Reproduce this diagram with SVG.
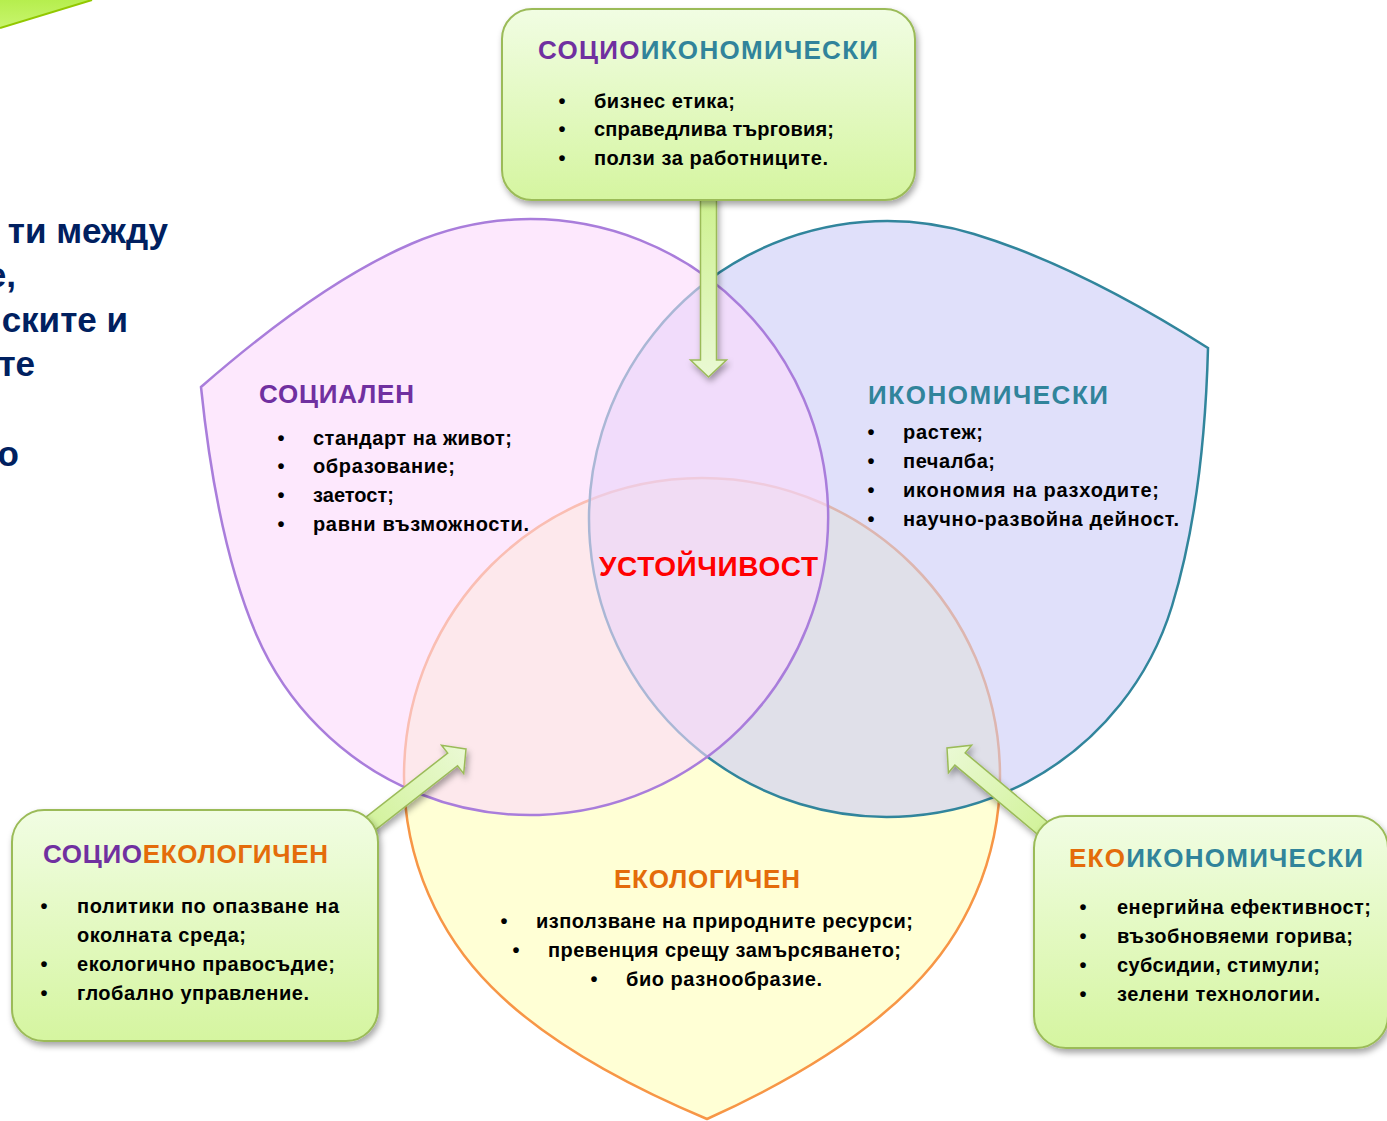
<svg xmlns="http://www.w3.org/2000/svg" width="1387" height="1121" viewBox="0 0 1387 1121">
<defs>
<style>
.t{font-family:"Liberation Sans",Arial,sans-serif;font-weight:bold}
.h{font-size:26px}
.b{font-size:20px;fill:#000}
.pu{fill:#7030a0}.te{fill:#31849b}.or{fill:#e46c0a}
.box{fill:url(#boxGrad);stroke:#9bbb59;stroke-width:2}
.arr{fill:url(#arrGrad);stroke:#9bbb59;stroke-width:1.5}
.lt{font-family:"Liberation Sans",Arial,sans-serif;font-weight:bold;font-size:35px;fill:#002060}
</style>
<linearGradient id="boxGrad" x1="0" y1="0" x2="0" y2="1">
<stop offset="0" stop-color="#f1fde3"/><stop offset="1" stop-color="#d5f5a0"/>
</linearGradient>
<linearGradient id="arrGrad" x1="1" y1="0" x2="0" y2="0">
<stop offset="0" stop-color="#eaf9d4"/><stop offset="1" stop-color="#cdf18f"/>
</linearGradient>
<linearGradient id="cornerGrad" x1="0" y1="0" x2="0" y2="1">
<stop offset="0" stop-color="#b6ee4e"/><stop offset="1" stop-color="#c8f56e"/>
</linearGradient>
<filter id="sh" x="-20%" y="-20%" width="140%" height="150%">
<feDropShadow dx="2" dy="4" stdDeviation="3" flood-color="#000" flood-opacity="0.35"/>
</filter>
</defs>
<rect width="1387" height="1121" fill="#fff"/>
<g id="corner-shape">
<polygon points="0,0 92,0 0,28" fill="url(#cornerGrad)"/>
<line x1="92" y1="0" x2="0" y2="28" stroke="#92c800" stroke-width="2"/>
</g>
<g id="left-text">
<text class="lt" x="168" y="243" text-anchor="end">ти между</text>
<text class="lt" x="16" y="287" text-anchor="end">е,</text>
<text class="lt" x="128" y="332" text-anchor="end">ските и</text>
<text class="lt" x="35" y="376" text-anchor="end">те</text>
<text class="lt" x="19" y="466" text-anchor="end">о</text>
</g>
<g id="venn-ecological">
<path d="M912.7,986.7 Q842,1058 707,1119 Q562,1058 491.3,986.7 A298,298 0 1,1 912.7,986.7 Z" fill="#ffffd5" stroke="#f79646" stroke-width="2.5"/>
</g>
<g id="venn-economic">
<path d="M974,234 Q1079,266 1208,348 Q1204,501 1172,606 A298,298 0 1,1 974,234 Z" fill="#cbcbf7" fill-opacity="0.6" stroke="#31859c" stroke-width="2.5"/>
</g>
<g id="venn-social">
<path d="M256.5,635 Q217,543 201,387 Q320,283 412,243.5 A298,298 0 1,1 256.5,635 Z" fill="#fcd9fc" fill-opacity="0.6" stroke="#a97ddb" stroke-width="2.5"/>
</g>
<g id="social-text">
<text class="t h pu" x="259" y="403" textLength="155">СОЦИАЛЕН</text>
<g class="t b">
<text x="281" y="445" text-anchor="middle">•</text><text x="313" y="445" textLength="199">стандарт на живот;</text>
<text x="281" y="473" text-anchor="middle">•</text><text x="313" y="473" textLength="142">образование;</text>
<text x="281" y="502" text-anchor="middle">•</text><text x="313" y="502" textLength="81">заетост;</text>
<text x="281" y="531" text-anchor="middle">•</text><text x="313" y="531" textLength="216">равни възможности.</text>
</g>
</g>
<g id="economic-text">
<text class="t h te" x="868" y="404" textLength="240">ИКОНОМИЧЕСКИ</text>
<g class="t b">
<text x="871" y="439" text-anchor="middle">•</text><text x="903" y="439" textLength="80">растеж;</text>
<text x="871" y="468" text-anchor="middle">•</text><text x="903" y="468" textLength="92">печалба;</text>
<text x="871" y="497" text-anchor="middle">•</text><text x="903" y="497" textLength="256">икономия на разходите;</text>
<text x="871" y="526" text-anchor="middle">•</text><text x="903" y="526" textLength="276">научно-развойна дейност.</text>
</g>
</g>
<g id="ecological-text">
<text class="t h or" x="614" y="888" textLength="186">ЕКОЛОГИЧЕН</text>
<g class="t b">
<text x="504" y="928" text-anchor="middle">•</text><text x="536" y="928" textLength="377">използване на природните ресурси;</text>
<text x="516" y="957" text-anchor="middle">•</text><text x="548" y="957" textLength="353">превенция срещу замърсяването;</text>
<text x="594" y="986" text-anchor="middle">•</text><text x="626" y="986" textLength="196">био разнообразие.</text>
</g>
</g>
<g id="center-label">
<text class="t" x="599" y="576" font-size="28" fill="#ff0000" textLength="219">УСТОЙЧИВОСТ</text>
</g>
<g id="connectors">
<g filter="url(#sh)"><polygon class="arr" transform="translate(708.5,377) rotate(90)" points="0,0 -17,-18 -17,-8 -180,-8 -180,8 -17,8 -17,18"/></g>
<g filter="url(#sh)"><polygon class="arr" transform="translate(466,749) rotate(-38)" points="0,0 -17,-18 -17,-8 -150,-8 -150,8 -17,8 -17,18"/></g>
<g filter="url(#sh)"><polygon class="arr" transform="translate(947,748) rotate(-140)" points="0,0 -17,-18 -17,-8 -150,-8 -150,8 -17,8 -17,18"/></g>
</g>
<g id="box-socioeconomic">
<rect class="box" x="502" y="9" width="413" height="191" rx="30" filter="url(#sh)"/>
<text class="t h" x="538" y="59" textLength="340"><tspan class="pu">СОЦИО</tspan><tspan class="te">ИКОНОМИЧЕСКИ</tspan></text>
<g class="t b">
<text x="562" y="108" text-anchor="middle">•</text><text x="594" y="108" textLength="141">бизнес етика;</text>
<text x="562" y="136" text-anchor="middle">•</text><text x="594" y="136" textLength="240">справедлива търговия;</text>
<text x="562" y="165" text-anchor="middle">•</text><text x="594" y="165" textLength="234">ползи за работниците.</text>
</g>
</g>
<g id="box-socioecological">
<rect class="box" x="12" y="810" width="366" height="231" rx="32" filter="url(#sh)"/>
<text class="t h" x="43" y="863" textLength="285"><tspan class="pu">СОЦИО</tspan><tspan class="or">ЕКОЛОГИЧЕН</tspan></text>
<g class="t b">
<text x="44" y="913" text-anchor="middle">•</text><text x="77" y="913" textLength="262">политики по опазване на</text>
<text x="77" y="942" textLength="169">околната среда;</text>
<text x="44" y="971" text-anchor="middle">•</text><text x="77" y="971" textLength="258">екологично правосъдие;</text>
<text x="44" y="1000" text-anchor="middle">•</text><text x="77" y="1000" textLength="232">глобално управление.</text>
</g>
</g>
<g id="box-ecoeconomic">
<rect class="box" x="1034" y="816" width="354" height="232" rx="32" filter="url(#sh)"/>
<text class="t h" x="1069" y="867" textLength="294"><tspan class="or">ЕКО</tspan><tspan class="te">ИКОНОМИЧЕСКИ</tspan></text>
<g class="t b">
<text x="1083" y="914" text-anchor="middle">•</text><text x="1117" y="914" textLength="254">енергийна ефективност;</text>
<text x="1083" y="943" text-anchor="middle">•</text><text x="1117" y="943" textLength="236">възобновяеми горива;</text>
<text x="1083" y="972" text-anchor="middle">•</text><text x="1117" y="972" textLength="203">субсидии, стимули;</text>
<text x="1083" y="1001" text-anchor="middle">•</text><text x="1117" y="1001" textLength="203">зелени технологии.</text>
</g>
</g>
</svg>
